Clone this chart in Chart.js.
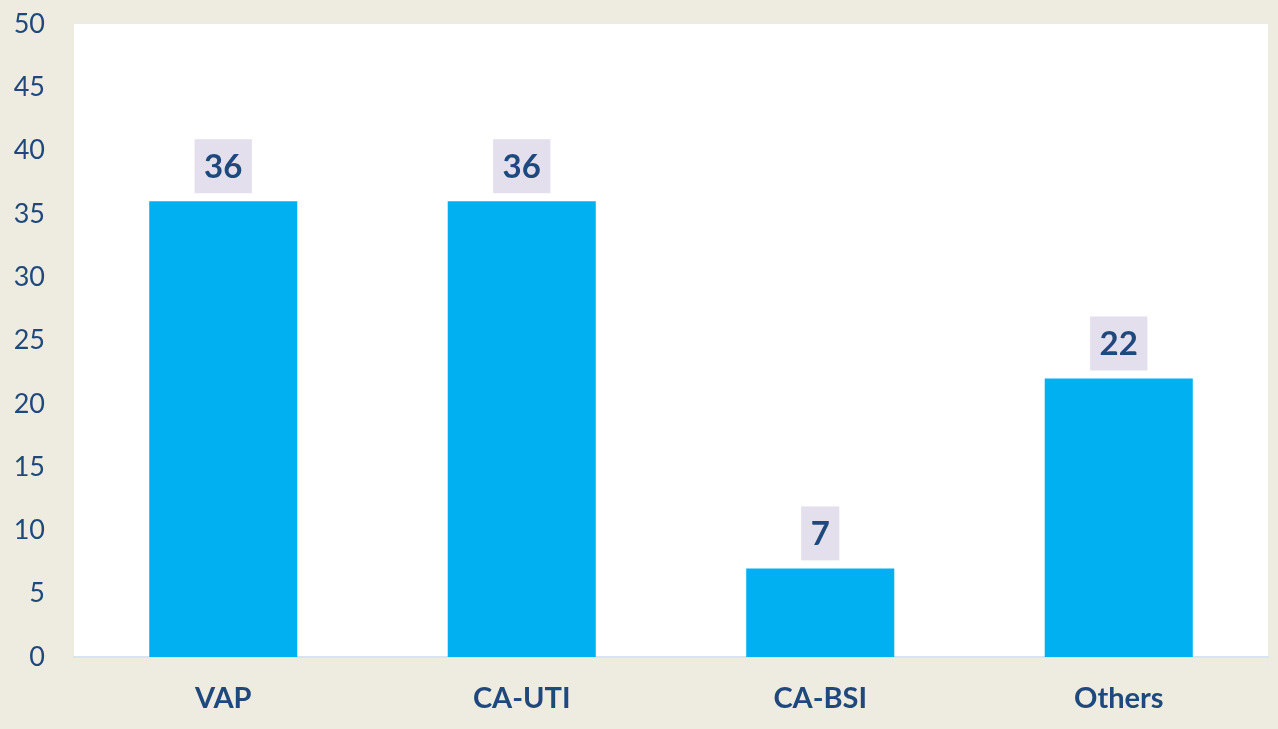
<!DOCTYPE html>
<html>
<head>
<meta charset="utf-8">
<script src="https://cdn.jsdelivr.net/npm/chart.js@4/dist/chart.umd.min.js"></script>
<style>
html,body{margin:0;padding:0;background:#EEEBE1;}
#wrap{width:1278px;height:729px;}
</style>
</head>
<body>
<div id="wrap"><canvas id="c" width="1278" height="729"></canvas></div>
<script>
const categories = ["VAP", "CA-UTI", "CA-BSI", "Others"];
const values = [36, 36, 7, 22];
const yTicks = [0, 5, 10, 15, 20, 25, 30, 35, 40, 45, 50];

const textColor = "#1F497D";
const fontFamily = "Lato, 'Open Sans', sans-serif";

const areaBg = {
  id: "areaBg",
  beforeDraw(chart) {
    const {ctx, chartArea: a} = chart;
    ctx.save();
    ctx.fillStyle = "#EEEBE1";
    ctx.fillRect(0, 0, chart.width, chart.height);
    ctx.fillStyle = "#FFFFFF";
    ctx.fillRect(a.left, a.top, a.right - a.left, a.bottom - a.top);
    ctx.restore();
  }
};

const valueLabels = {
  id: "valueLabels",
  afterDatasetsDraw(chart) {
    const {ctx} = chart;
    const meta = chart.getDatasetMeta(0);
    ctx.save();
    ctx.font = "bold 33px " + fontFamily;
    ctx.textAlign = "center";
    ctx.textBaseline = "middle";
    meta.data.forEach((bar, i) => {
      const txt = String(chart.data.datasets[0].data[i]);
      const w = ctx.measureText(txt).width + 19;
      const h = 54;
      const bottom = bar.y - 8;
      ctx.fillStyle = "#E4DFEC";
      ctx.fillRect(bar.x - w / 2, bottom - h, w, h);
      ctx.fillStyle = textColor;
      ctx.fillText(txt, bar.x, bottom - h / 2 + 1);
    });
    ctx.restore();
  }
};

new Chart(document.getElementById("c"), {
  type: "bar",
  data: {
    labels: categories,
    datasets: [{
      data: values,
      backgroundColor: "#00B0F0",
      borderWidth: 0,
      categoryPercentage: 1.0,
      barPercentage: 0.496
    }]
  },
  options: {
    responsive: false,
    animation: false,
    devicePixelRatio: 1,
    layout: { padding: { top: 24, right: 10, left: 0, bottom: 0 } },
    plugins: { legend: { display: false }, tooltip: { enabled: false } },
    scales: {
      x: {
        grid: { display: false, drawTicks: false },
        border: { display: true, color: "#D6E4F3", width: 2 },
        ticks: { color: textColor, font: { family: fontFamily, size: 29, weight: "bold" }, padding: 24 },
        afterFit(s) { s.height = 72; s.paddingLeft = 0; s.paddingRight = 0; }
      },
      y: {
        min: 0, max: 50,
        afterBuildTicks(s) { s.ticks = yTicks.map(v => ({ value: v })); },
        grid: { display: false, drawTicks: false },
        border: { display: false },
        ticks: { color: textColor, font: { family: fontFamily, size: 27 }, padding: 29 },
        afterFit(s) { s.width = 74; s.paddingTop = 0; s.paddingBottom = 0; }
      }
    }
  },
  plugins: [areaBg, valueLabels]
});
</script>
</body>
</html>
